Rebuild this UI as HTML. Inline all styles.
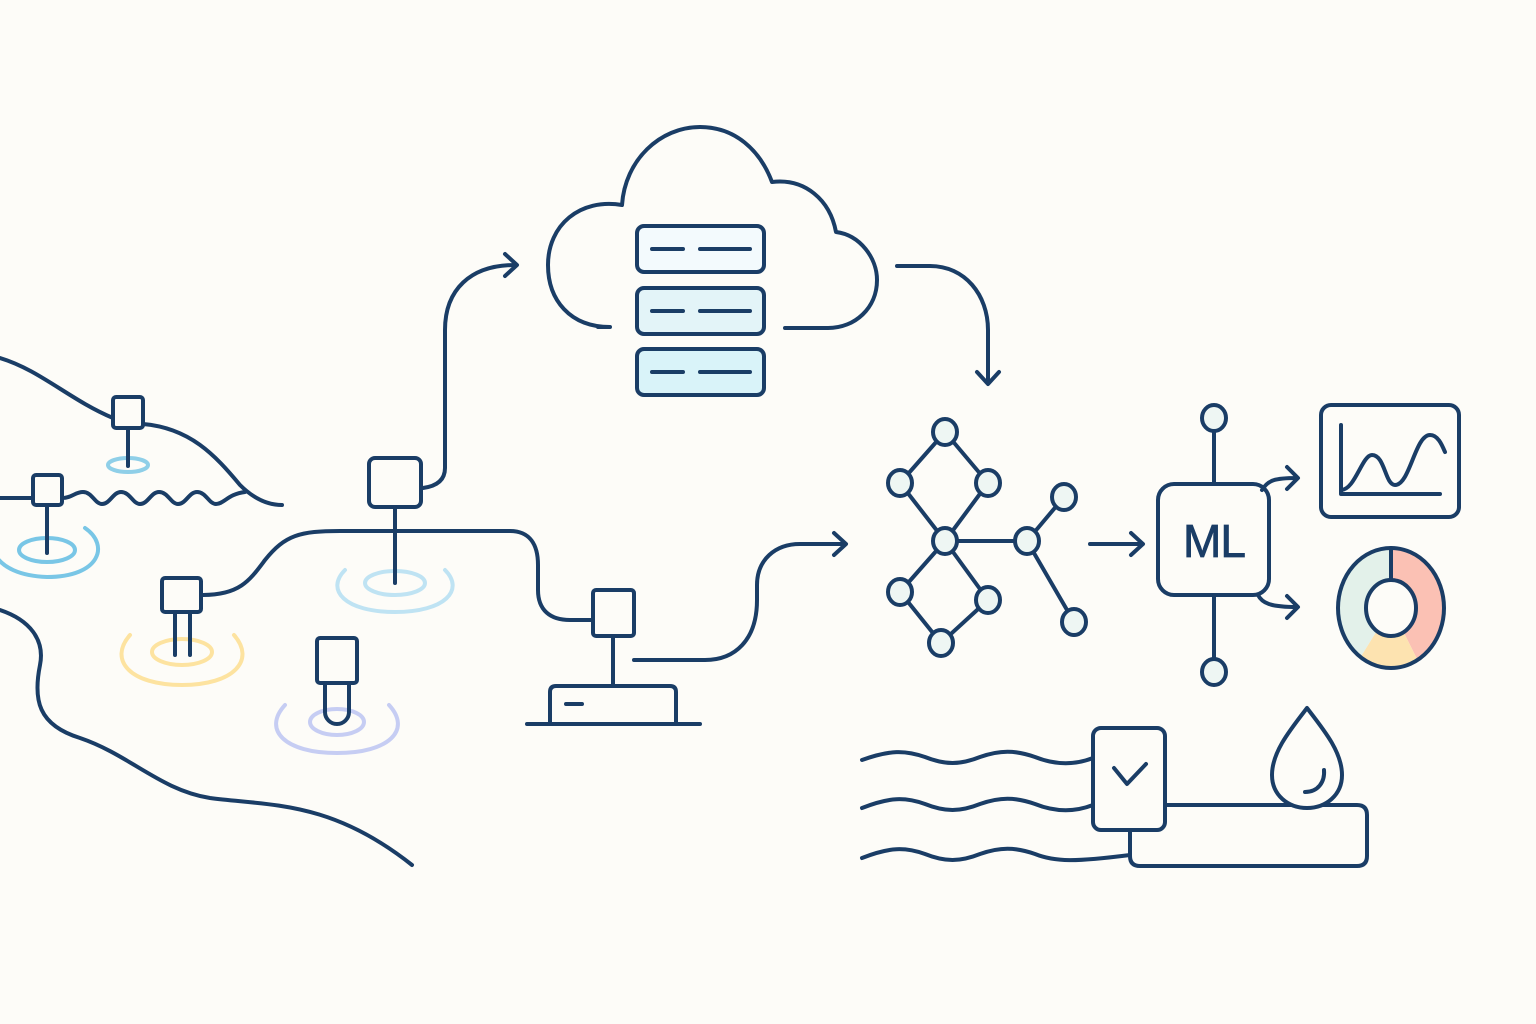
<!DOCTYPE html>
<html><head><meta charset="utf-8"><style>html,body{margin:0;padding:0;background:#fdfcf8}svg{display:block}</style></head>
<body>
<svg width="1536" height="1024" viewBox="0 0 1536 1024" xmlns="http://www.w3.org/2000/svg">
<rect width="1536" height="1024" fill="#fdfcf8"/>
<g fill="none" stroke-linecap="round" stroke-linejoin="round">
<ellipse cx="128" cy="465" rx="20" ry="7" stroke="#8fcfe8" stroke-width="4"/>
<ellipse cx="47" cy="550" rx="28" ry="12" stroke="#79c6e6" stroke-width="4"/>
<path d="M-5,528 C-15,540 -10,575 47,577 C100,577 110,545 85,528" stroke="#79c6e6" stroke-width="4"/>
<ellipse cx="395" cy="583" rx="30" ry="12" stroke="#bfe3f3" stroke-width="4"/>
<path d="M345,570 C325,590 345,612 395,612 C445,612 465,590 445,570" stroke="#bfe3f3" stroke-width="4"/>
<ellipse cx="182" cy="652" rx="30" ry="13" stroke="#fde3a0" stroke-width="4"/>
<path d="M130,635 C108,660 130,685 182,685 C234,685 256,660 234,635" stroke="#fde3a0" stroke-width="4"/>
<ellipse cx="337" cy="722" rx="27" ry="13" stroke="#c6cdf3" stroke-width="4"/>
<path d="M285,705 C262,730 285,753 337,753 C389,753 412,730 389,705" stroke="#c6cdf3" stroke-width="4"/>
</g>
<g fill="none" stroke="#1a3d66" stroke-width="4" stroke-linecap="round" stroke-linejoin="round">
<path d="M598,327 H610 C570,327 548,300 548,265 C548,225 580,198 622,205 C625,160 660,127 700,127 C735,127 760,150 772,182 C805,178 830,200 836,232 C860,235 877,258 877,280 C877,308 855,328 828,328 H785"/>
<rect x="637" y="226" width="127" height="46" rx="7" fill="#f3fafd"/>
<rect x="637" y="288" width="127" height="46" rx="7" fill="#e3f4f8"/>
<rect x="637" y="349" width="127" height="46" rx="7" fill="#d9f3f9"/>
<path d="M652,249 H683 M700,249 H750 M652,311 H683 M700,311 H750 M652,372 H683 M700,372 H750"/>
<path d="M423,488 Q445,485 445,468 V330 C445,290 470,265 515,265"/>
<path d="M505,254 L517,265 L505,276"/>
<path d="M897,266 H930 C965,266 988,295 988,330 V383"/>
<path d="M977,372 L988,384 L999,372"/>
<path d="M634,660 H705 C735,660 757,640 757,600 V585 C757,560 775,544 800,544 H845"/>
<path d="M834,533 L846,544 L834,555"/>
<path d="M0,358 C40,370 70,400 113,418"/>
<path d="M143,424 C190,428 215,455 240,485 C255,500 270,505 282,505"/>
<rect x="113" y="397" width="30" height="31" rx="3" fill="#fdfcf8"/>
<path d="M128,428 V466"/>
<path d="M0,498 H33"/>
<path d="M62,498 C72,498 75,492 83,492 C92,492 95,504 102,504 C110,504 113,492 121,492 C130,492 133,504 140,504 C148,504 151,492 159,492 C168,492 171,504 178,504 C186,504 189,492 197,492 C206,492 209,504 216,504 C224,504 228,494 245,492"/>
<rect x="33" y="475" width="29" height="30" rx="3" fill="#fdfcf8"/>
<path d="M47,505 V553"/>
<path d="M0,610 C30,620 45,640 40,665 C33,700 38,725 80,738 C130,755 160,790 210,798 C270,806 330,800 412,865"/>
<path d="M203,595 C240,595 250,580 265,560 C285,535 300,531 340,531 H510 C530,531 538,545 538,565 V590 C538,610 550,620 570,620 H593"/>
<rect x="369" y="458" width="52" height="49" rx="6" fill="#fdfcf8"/>
<path d="M395,507 V583"/>
<rect x="162" y="578" width="39" height="34" rx="3" fill="#fdfcf8"/>
<path d="M175,612 V655 M190,612 V655"/>
<rect x="317" y="638" width="40" height="45" rx="3" fill="#fdfcf8"/>
<path d="M325,683 V712 A12,12 0 0 0 349,712 V683"/>
<rect x="593" y="590" width="41" height="46" rx="3" fill="#fdfcf8"/>
<path d="M613,636 V686"/>
<path d="M550,724 V692 Q550,686 556,686 H670 Q676,686 676,692 V724"/>
<path d="M527,724 H700 M566,704 H582"/>
<path d="M945,432 L900,483 L945,541 L988,483 Z M945,541 L900,592 L941,643 L988,600 Z M945,541 H1027 L1064,497 M1027,541 L1074,622"/>
<g fill="#eef6f3">
<ellipse cx="945" cy="432" rx="12" ry="13"/><ellipse cx="900" cy="483" rx="12" ry="13"/><ellipse cx="988" cy="483" rx="12" ry="13"/><ellipse cx="945" cy="541" rx="12" ry="13"/><ellipse cx="1027" cy="541" rx="12" ry="13"/><ellipse cx="1064" cy="497" rx="12" ry="13"/><ellipse cx="900" cy="592" rx="12" ry="13"/><ellipse cx="988" cy="600" rx="12" ry="13"/><ellipse cx="941" cy="643" rx="12" ry="13"/><ellipse cx="1074" cy="622" rx="12" ry="13"/>
</g>
<path d="M1090,544 H1142 M1131,533 L1143,544 L1131,555"/>
<path d="M1214,430 V484 M1214,595 V660"/>
<ellipse cx="1214" cy="418" rx="12" ry="13" fill="#eef6f3"/>
<ellipse cx="1214" cy="672" rx="12" ry="13" fill="#eef6f3"/>
<rect x="1158" y="484" width="111" height="111" rx="16" fill="#fdfcf8"/>
<path d="M1262,490 C1268,480 1275,478 1297,478 M1287,467 L1298,478 L1287,489"/>
<path d="M1258,595 C1262,603 1270,607 1297,607 M1287,596 L1298,607 L1287,618"/>
<rect x="1321" y="405" width="138" height="112" rx="10"/>
<path d="M1341,425 V494 H1440"/>
<path d="M1341,490 C1355,490 1362,455 1372,455 C1385,455 1385,485 1395,485 C1410,485 1415,435 1430,435 C1438,435 1442,445 1445,452"/>
</g>
<g stroke="none">
<path d="M1391,548 A53,60 0 0 1 1417.5,660 L1403.5,632 A25,28 0 0 0 1391,580 Z" fill="#fbc1b4"/>
<path d="M1417.5,660 A53,60 0 0 1 1360.6,657 L1376.7,631 A25,28 0 0 0 1403.5,632 Z" fill="#fde3b0"/>
<path d="M1360.6,657 A53,60 0 0 1 1391,548 L1391,580 A25,28 0 0 0 1376.7,631 Z" fill="#e3f1ea"/>
</g>
<g fill="none" stroke="#1a3d66" stroke-width="4" stroke-linecap="round" stroke-linejoin="round">
<ellipse cx="1391" cy="608" rx="53" ry="60"/>
<ellipse cx="1391" cy="608" rx="25" ry="28"/>
<path d="M1391,548 V580"/>
<path d="M862,760 C890,750 905,750 925,757 C945,765 960,765 980,757 C1000,750 1015,750 1035,757 C1055,765 1075,765 1093,758"/>
<path d="M862,808 C890,797 905,797 925,804 C945,812 960,812 980,804 C1000,797 1015,797 1035,804 C1055,812 1075,812 1093,805"/>
<path d="M862,858 C890,847 905,847 925,854 C945,862 960,862 980,854 C1000,847 1015,847 1035,854 C1055,862 1075,862 1130,855"/>
<path d="M1165,805 H1357 Q1367,805 1367,815 V856 Q1367,866 1357,866 H1140 Q1130,866 1130,856 V830"/>
<path d="M1307,708 C1290,730 1272,752 1272,775 C1272,795 1288,808 1307,808 C1326,808 1342,795 1342,775 C1342,752 1324,730 1307,708 Z" fill="#fdfcf8"/>
<path d="M1305,792 C1318,792 1325,782 1324,770"/>
<rect x="1093" y="728" width="72" height="102" rx="8" fill="#fdfcf8"/>
<path d="M1114,768 L1127,784 L1146,764"/>
</g>
<text x="1214" y="557" text-anchor="middle" font-family="Liberation Sans, sans-serif" font-size="46" fill="#1a3d66" stroke="#1a3d66" stroke-width="0.8" letter-spacing="-1">ML</text>
</svg>
</body></html>
